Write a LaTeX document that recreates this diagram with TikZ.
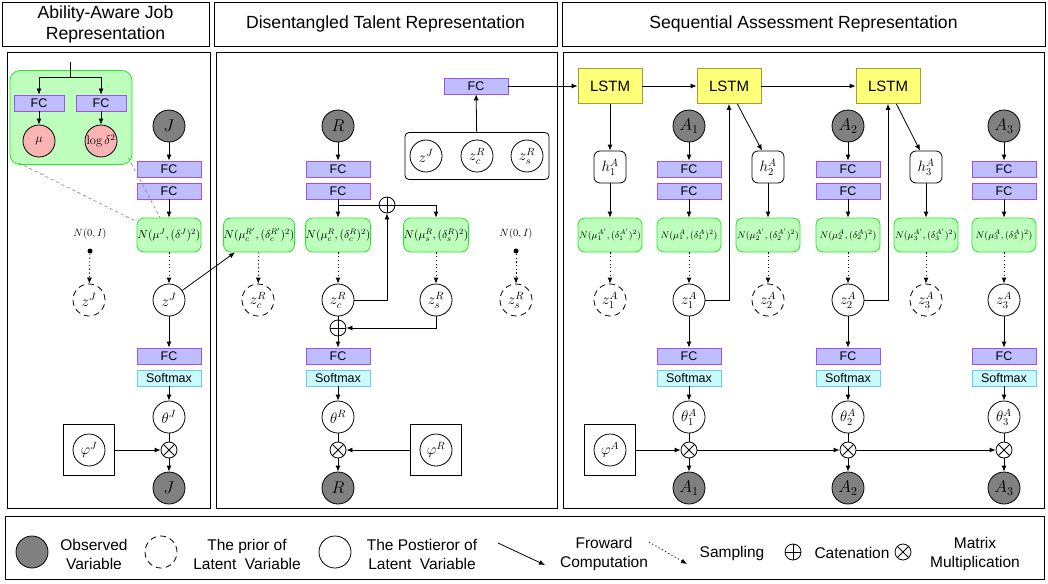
\RequirePackage{fix-cm}
\documentclass[tikz,border=0pt]{standalone}
\usepackage{amsmath}
\usepackage[no-math]{fontspec}
\setmainfont{Liberation Sans}
\usepackage{tikz}
\usepackage{xcolor}
\usetikzlibrary{
    arrows.meta,
    calc,
    shapes.misc
}

\definecolor{fcfill}{RGB}{190,190,255}
\definecolor{fcline}{RGB}{160,80,235}
\definecolor{smfill}{RGB}{200,250,255}
\definecolor{smline}{RGB}{110,200,240}
\definecolor{gsfill}{RGB}{190,255,190}
\definecolor{gsline}{RGB}{40,230,40}
\definecolor{lsfill}{RGB}{255,255,120}
\definecolor{lsline}{RGB}{160,160,50}
\definecolor{pkfill}{RGB}{250,180,180}
\definecolor{obsfill}{RGB}{128,128,128}

\tikzset{
    fcbox/.style={draw=fcline, fill=fcfill, minimum width=64pt, minimum height=16pt, inner sep=0pt, font=\fontsize{12.5}{13}\selectfont},
    smbox/.style={draw=smline, fill=smfill, minimum width=64pt, minimum height=16pt, inner sep=0pt, font=\fontsize{12.5}{13}\selectfont},
    gauss/.style={draw=gsline, fill=gsfill, rounded corners=7pt, minimum width=64pt, minimum height=34pt, inner sep=0pt, font=\fontsize{11.5}{12}\selectfont},
    gaussA/.style={gauss, font=\fontsize{9.5}{10}\selectfont},
    lstm/.style={draw=lsline, fill=lsfill, minimum width=64pt, minimum height=35pt, inner sep=0pt, font=\fontsize{15}{15}\selectfont},
    obsvar/.style={circle, draw, fill=obsfill, minimum size=32pt, inner sep=0pt, font=\fontsize{17}{17}\selectfont},
    postvar/.style={circle, draw, fill=white, minimum size=32pt, inner sep=0pt, font=\fontsize{15}{15}\selectfont},
    priorvar/.style={postvar, dash pattern=on 6pt off 4pt},
    hidvar/.style={draw, fill=white, rounded corners=6pt, minimum size=32pt, inner sep=0pt, font=\fontsize{15}{15}\selectfont},
    pinkvar/.style={circle, draw, fill=pkfill, minimum size=32pt, inner sep=0pt, font=\fontsize{12.5}{13}\selectfont},
    plate/.style={draw, minimum size=51pt, inner sep=0pt},
    catop/.style={circle, draw, fill=white, minimum size=16pt, inner sep=0pt,
        path picture={\draw (path picture bounding box.north) -- (path picture bounding box.south)
            (path picture bounding box.east) -- (path picture bounding box.west);}},
    mulop/.style={circle, draw, fill=white, minimum size=16pt, inner sep=0pt,
        path picture={\draw (path picture bounding box.north west) -- (path picture bounding box.south east)
            (path picture bounding box.north east) -- (path picture bounding box.south west);}},
    sampling/.style={->, dash pattern=on 1.2pt off 2.5pt},
    smalllabel/.style={inner sep=0pt, font=\fontsize{10.5}{11}\selectfont},
    stdot/.style={circle, fill, inner sep=0pt, minimum size=5pt},
    titlebox/.style={draw, align=center, inner sep=0pt, minimum height=44pt, font=\fontsize{17.6}{21}\selectfont},
    legtext/.style={align=center, inner sep=0pt, font=\fontsize{15.5}{19}\selectfont}
}

\begin{document}
\begin{tikzpicture}[x=1pt, y=-1pt, line width=0.8pt, >={Latex[length=6pt,width=5pt]}]
    \useasboundingbox (0,0) rectangle (1048,583);

    % titles and frames
    \node[titlebox, minimum width=207pt] (ttlJ) at (105.5,24) {Ability-Aware Job\\Representation};
    \node[titlebox, minimum width=343pt] (ttlR) at (385.5,24) {Disentangled Talent Representation};
    \node[titlebox, minimum width=483pt] (ttlA) at (803.5,24) {Sequential Assessment Representation};
    \draw (7,52) rectangle (210,508);
    \draw (216,52) rectangle (557,508);
    \draw (563,52) rectangle (1044,508);
    \draw (5,516) rectangle (1044,579);

    % job part
    \node[draw=gsline, fill=gsfill, rounded corners=10pt, minimum width=122pt, minimum height=94pt] (inset) at (71,117.5) {};
    \node[fcbox, minimum width=50pt] (fcMu) at (39,103) {FC};
    \node[fcbox, minimum width=50pt] (fcSig) at (101,103) {FC};
    \node[pinkvar] (mu) at (39,141) {$\mu$};
    \node[pinkvar] (logSig) at (101,141) {$\log\delta^2$};
    \coordinate (insTop) at (70,62);
    \coordinate (insSplit) at (70,77);
    \draw (insTop) -- (insSplit);
    \draw[->] (insSplit) -| (fcMu);
    \draw[->] (insSplit) -| (fcSig);
    \draw[->] (fcMu) -- (mu);
    \draw[->] (fcSig) -- (logSig);

    \node[obsvar] (J) at (169,126) {$J$};
    \node[fcbox] (fcJa) at (169,169) {FC};
    \node[fcbox] (fcJb) at (169,191) {FC};
    \node[gauss] (NJ) at (169,235) {$N(\mu^J,(\delta^J)^2)$};
    \node[smalllabel] (NoJ) at (90,234) {$N(0,I)$};
    \node[stdot] (dotJ) at (90,251) {};
    \node[priorvar] (zJp) at (89,300) {$z^J$};
    \node[postvar] (zJ) at (169,300) {$z^J$};
    \node[fcbox] (fcJc) at (169,356) {FC};
    \node[smbox] (smJ) at (169,378) {Softmax};
    \node[postvar] (thJ) at (169,417) {$\theta^J$};
    \node[mulop] (mJ) at (169,450) {};
    \node[obsvar] (Jout) at (169,488) {$J$};
    \node[plate] (phJbox) at (89,450) {};
    \node[postvar] (phJ) at (89,450) {$\varphi^J$};

    \draw[gray, dashed, line width=0.6pt] (inset.south west) ++(9,-2) -- ($(NJ.north west)+(0,4)$);
    \draw[gray, dashed, line width=0.6pt] (inset.south east) ++(-4,-7) -- ($(NJ.north)+(-9,0)$);
    \draw[->] (J) -- (fcJa);
    \draw[->] (fcJb) -- (NJ);
    \draw[sampling] (dotJ) -- (zJp);
    \draw[sampling] (NJ) -- (zJ);
    \draw[->] (zJ) -- (fcJc);
    \draw[->] (smJ) -- (thJ);
    \draw (thJ) -- (mJ);
    \draw[->] (mJ) -- (Jout);
    \draw[->] (phJbox) -- (mJ);

    % talent part
    \node[obsvar] (R) at (338,126) {$R$};
    \node[fcbox] (fcRa) at (338,169) {FC};
    \node[fcbox] (fcRb) at (338,191) {FC};
    \node[gauss] (NcRp) at (259,235) {$N(\mu_c^{R'},(\delta_c^{R'})^2)$};
    \node[gauss] (NcR) at (338,235) {$N(\mu_c^{R},(\delta_c^{R})^2)$};
    \node[gauss] (NsR) at (436,235) {$N(\mu_s^{R},(\delta_s^{R})^2)$};
    \node[smalllabel] (NoR) at (516,234) {$N(0,I)$};
    \node[stdot] (dotR) at (516,251) {};
    \node[priorvar] (zcRp) at (258,300) {$z_c^R$};
    \node[postvar] (zcR) at (338,300) {$z_c^R$};
    \node[postvar] (zsR) at (436,300) {$z_s^R$};
    \node[priorvar] (zsRp) at (516,300) {$z_s^R$};
    \node[fcbox] (fcRc) at (338,356) {FC};
    \node[smbox] (smR) at (338,378) {Softmax};
    \node[postvar] (thR) at (338,417) {$\theta^R$};
    \node[mulop] (mR) at (338,450) {};
    \node[obsvar] (Rout) at (338,488) {$R$};
    \node[plate] (phRbox) at (436,450) {};
    \node[postvar] (phR) at (436,450) {$\varphi^R$};

    \node[draw, rounded corners=4pt, minimum width=144pt, minimum height=47pt] (zGroup) at (477,156) {};
    \node[postvar] (zJg) at (426,156) {$z^J$};
    \node[postvar] (zcRg) at (477,156) {$z_c^R$};
    \node[postvar] (zsRg) at (527,156) {$z_s^R$};
    \node[fcbox] (fcTop) at (476,86) {FC};

    \draw[->] (zJ) -- (NcRp);
    \draw[->] (R) -- (fcRa);
    \draw[->] (fcRb) -- (NcR);
    \draw[->] (fcRb.south) -- ++(0,6) -| (NsR.north);
    \node[catop] (catR) at (387,205) {};
    \node[catop] (catZ) at (338,328) {};
    \draw[sampling] (NcRp) -- (zcRp);
    \draw[sampling] (NcR) -- (zcR);
    \draw[sampling] (NsR) -- (zsR);
    \draw[sampling] (dotR) -- (zsRp);
    \draw[->] (zcR.east) -| (catR.south);
    \draw[->] (zsR.south) |- (catZ.east);
    \draw (zcR) -- (catZ);
    \draw[->] (catZ) -- (fcRc);
    \draw[->] (smR) -- (thR);
    \draw (thR) -- (mR);
    \draw[->] (mR) -- (Rout);
    \draw[->] (phRbox) -- (mR);
    \draw[->] (zGroup) -- (fcTop);

    % assessment part
    \node[lstm] (lsA) at (610,86) {LSTM};
    \node[lstm] (lsB) at (729,86) {LSTM};
    \node[lstm] (lsC) at (888,86) {LSTM};
    \node[hidvar] (hA) at (610,167) {$h_1^A$};
    \node[hidvar] (hB) at (768,167) {$h_2^A$};
    \node[hidvar] (hC) at (926,167) {$h_3^A$};

    \node[obsvar] (Aa) at (689,126) {$A_1$};
    \node[obsvar] (Ab) at (848,126) {$A_2$};
    \node[obsvar] (Ac) at (1004,126) {$A_3$};
    \node[fcbox] (fcAa1) at (689,169) {FC};
    \node[fcbox] (fcAa2) at (689,191) {FC};
    \node[fcbox] (fcAb1) at (848,169) {FC};
    \node[fcbox] (fcAb2) at (848,191) {FC};
    \node[fcbox] (fcAc1) at (1004,169) {FC};
    \node[fcbox] (fcAc2) at (1004,191) {FC};

    \node[gaussA] (NAap) at (610,235) {$N(\mu_1^{A'},(\delta_1^{A'})^2)$};
    \node[gaussA] (NAa) at (689,235) {$N(\mu_1^{A},(\delta_1^{A})^2)$};
    \node[gaussA] (NAbp) at (768,235) {$N(\mu_2^{A'},(\delta_2^{A'})^2)$};
    \node[gaussA] (NAb) at (848,235) {$N(\mu_2^{A},(\delta_2^{A})^2)$};
    \node[gaussA] (NAcp) at (926,235) {$N(\mu_3^{A'},(\delta_3^{A'})^2)$};
    \node[gaussA] (NAc) at (1004,235) {$N(\mu_3^{A},(\delta_3^{A})^2)$};

    \node[priorvar] (zAap) at (610,300) {$z_1^A$};
    \node[postvar] (zAa) at (689,300) {$z_1^A$};
    \node[priorvar] (zAbp) at (768,300) {$z_2^A$};
    \node[postvar] (zAb) at (848,300) {$z_2^A$};
    \node[priorvar] (zAcp) at (926,300) {$z_3^A$};
    \node[postvar] (zAc) at (1004,300) {$z_3^A$};

    \node[fcbox] (fcAa3) at (689,356) {FC};
    \node[smbox] (smAa) at (689,378) {Softmax};
    \node[fcbox] (fcAb3) at (848,356) {FC};
    \node[smbox] (smAb) at (848,378) {Softmax};
    \node[fcbox] (fcAc3) at (1004,356) {FC};
    \node[smbox] (smAc) at (1004,378) {Softmax};
    \node[postvar] (thAa) at (689,417) {$\theta_1^A$};
    \node[postvar] (thAb) at (848,417) {$\theta_2^A$};
    \node[postvar] (thAc) at (1004,417) {$\theta_3^A$};
    \node[mulop] (mAa) at (689,450) {};
    \node[mulop] (mAb) at (848,450) {};
    \node[mulop] (mAc) at (1004,450) {};
    \node[obsvar] (Aaout) at (689,488) {$A_1$};
    \node[obsvar] (About) at (848,488) {$A_2$};
    \node[obsvar] (Acout) at (1004,488) {$A_3$};
    \node[plate] (phAbox) at (610,450) {};
    \node[postvar] (phA) at (610,450) {$\varphi^A$};

    \draw[->] (fcTop) -- (lsA);
    \draw[->] (lsA) -- (lsB);
    \draw[->] (lsB) -- (lsC);
    \draw[->] (lsA) -- (hA);
    \draw[->] (lsB.-65) -- (hB.110);
    \draw[->] (lsC.-65) -- (hC.110);
    \draw[->] (hA) -- (NAap);
    \draw[->] (hB) -- (NAbp);
    \draw[->] (hC) -- (NAcp);
    \draw[->] (Aa) -- (fcAa1);
    \draw[->] (Ab) -- (fcAb1);
    \draw[->] (Ac) -- (fcAc1);
    \draw[->] (fcAa2) -- (NAa);
    \draw[->] (fcAb2) -- (NAb);
    \draw[->] (fcAc2) -- (NAc);
    \draw[sampling] (NAap) -- (zAap);
    \draw[sampling] (NAa) -- (zAa);
    \draw[sampling] (NAbp) -- (zAbp);
    \draw[sampling] (NAb) -- (zAb);
    \draw[sampling] (NAcp) -- (zAcp);
    \draw[sampling] (NAc) -- (zAc);
    \draw[->] (zAa.east) -| (lsB.south);
    \draw[->] (zAb.east) -| (lsC.south);
    \draw[->] (zAa) -- (fcAa3);
    \draw[->] (zAb) -- (fcAb3);
    \draw[->] (zAc) -- (fcAc3);
    \draw[->] (smAa) -- (thAa);
    \draw[->] (smAb) -- (thAb);
    \draw[->] (smAc) -- (thAc);
    \draw (thAa) -- (mAa);
    \draw (thAb) -- (mAb);
    \draw (thAc) -- (mAc);
    \draw[->] (mAa) -- (Aaout);
    \draw[->] (mAb) -- (About);
    \draw[->] (mAc) -- (Acout);
    \draw[->] (phAbox) -- (mAa);
    \draw[->] (mAa) -- (mAb);
    \draw[->] (mAb) -- (mAc);

    % legend
    \node[obsvar] (lgObs) at (32,552) {};
    \node[legtext] (lgObsTxt) at (94,554) {Observed\\Variable};
    \node[priorvar] (lgPrior) at (161,552) {};
    \node[legtext] (lgPriorTxt) at (247,554) {The prior of\\Latent\ \ Variable};
    \node[postvar] (lgPost) at (335,552) {};
    \node[legtext] (lgPostTxt) at (422,554) {The Postieror of\\Latent\ \ Variable};
    \coordinate (lgFwdA) at (498,543);
    \coordinate (lgFwdB) at (545,565);
    \draw[->] (lgFwdA) -- (lgFwdB);
    \node[legtext] (lgFwdTxt) at (604,554) {Froward\\Computation};
    \coordinate (lgSmpA) at (649,542);
    \coordinate (lgSmpB) at (687,564);
    \draw[sampling] (lgSmpA) -- (lgSmpB);
    \node[legtext] (lgSmpTxt) at (732,553) {Sampling};
    \node[catop] (lgCat) at (793,552) {};
    \node[legtext] (lgCatTxt) at (852,553) {Catenation};
    \node[mulop] (lgMul) at (903,552) {};
    \node[legtext] (lgMulTxt) at (975,554) {Matrix\\Multiplication};
\end{tikzpicture}
\end{document}
